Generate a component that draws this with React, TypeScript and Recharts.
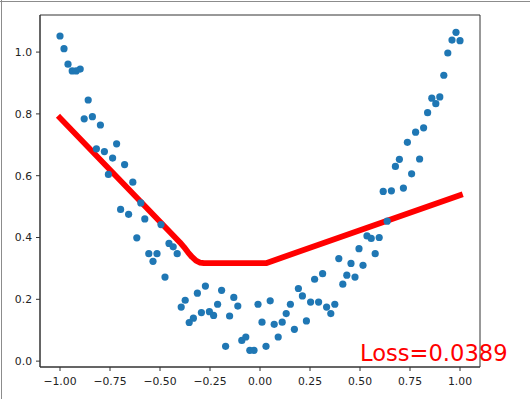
import {
  ComposedChart, Scatter, Line, XAxis, YAxis, ReferenceDot, ReferenceArea,
} from "recharts";

const pointX = [
  -1.000, -0.980, -0.960, -0.939, -0.919, -0.899, -0.879, -0.859, -0.838, -0.818,
  -0.798, -0.778, -0.758, -0.737, -0.717, -0.697, -0.677, -0.657, -0.636, -0.616,
  -0.596, -0.576, -0.556, -0.535, -0.515, -0.495, -0.475, -0.455, -0.434, -0.414,
  -0.394, -0.374, -0.354, -0.333, -0.313, -0.293, -0.273, -0.253, -0.232, -0.212,
  -0.192, -0.172, -0.152, -0.131, -0.111, -0.091, -0.071, -0.051, -0.030, -0.010,
  0.010, 0.030, 0.051, 0.071, 0.091, 0.111, 0.131, 0.152, 0.172, 0.192,
  0.212, 0.232, 0.253, 0.273, 0.293, 0.313, 0.333, 0.354, 0.374, 0.394,
  0.414, 0.434, 0.455, 0.475, 0.495, 0.515, 0.535, 0.556, 0.576, 0.596,
  0.616, 0.636, 0.657, 0.677, 0.697, 0.717, 0.737, 0.758, 0.778, 0.798,
  0.818, 0.838, 0.859, 0.879, 0.899, 0.919, 0.939, 0.960, 0.980, 1.000,
];

const pointY = [
  1.052, 1.011, 0.961, 0.939, 0.939, 0.945, 0.784, 0.845, 0.791, 0.687,
  0.764, 0.678, 0.604, 0.657, 0.703, 0.491, 0.636, 0.475, 0.579, 0.399,
  0.512, 0.460, 0.348, 0.323, 0.348, 0.442, 0.272, 0.381, 0.370, 0.348,
  0.175, 0.197, 0.125, 0.139, 0.220, 0.157, 0.243, 0.160, 0.148, 0.184,
  0.229, 0.048, 0.146, 0.206, 0.178, 0.067, 0.078, 0.035, 0.035, 0.184,
  0.126, 0.048, 0.195, 0.119, 0.078, 0.126, 0.154, 0.184, 0.103, 0.235,
  0.211, 0.130, 0.191, 0.265, 0.191, 0.283, 0.175, 0.154, 0.184, 0.332,
  0.249, 0.278, 0.316, 0.272, 0.364, 0.310, 0.405, 0.397, 0.348, 0.400,
  0.549, 0.453, 0.551, 0.630, 0.653, 0.560, 0.708, 0.606, 0.741, 0.654,
  0.755, 0.804, 0.851, 0.833, 0.855, 0.925, 0.997, 1.039, 1.064, 1.037,
];

// fitted curve (prediction)
const fitX = [-1.0, -0.40, -0.38, -0.36, -0.34, -0.32, -0.30, -0.28, 0.03, 1.0];
const fitY = [0.787, 0.384, 0.369, 0.352, 0.337, 0.325, 0.319, 0.317, 0.317, 0.537];

const xTicks = [-1, -0.75, -0.5, -0.25, 0, 0.25, 0.5, 0.75, 1];
const yTicks = [0, 0.2, 0.4, 0.6, 0.8, 1.0];
const xDomain = [-1.1, 1.1];
const yDomain = [-0.019, 1.12];
const lossText = "Loss=0.0389";

const points = pointX.map((x, i) => ({ x, y: pointY[i] }));
const fit = fitX.map((x, i) => ({ x, y: fitY[i] }));

const FONT = "'DejaVu Sans', sans-serif";
const AXIS = "#333";

const fmtX = (v: number) => (v < 0 ? "\u2212" + Math.abs(v).toFixed(2) : v.toFixed(2));
const fmtY = (v: number) => v.toFixed(1);

export default function App() {
  return (
    <div style={{ position: "absolute", left: 0, top: 0, width: 530, height: 399, background: "#fff" }}>
      <div style={{ position: "absolute", left: 0, top: 1, width: 530, height: 1, background: "#8c8c8c" }} />
      <div style={{ position: "absolute", left: 1, top: 0, width: 1, height: 399, background: "#8c8c8c" }} />
      <ComposedChart width={530} height={399} margin={{ top: 15, right: 50, left: 0, bottom: 0 }}>
        <XAxis
          dataKey="x"
          type="number"
          domain={xDomain}
          ticks={xTicks}
          tickFormatter={fmtX}
          height={32}
          tickSize={4}
          tickMargin={6}
          stroke={AXIS}
          tick={{ fontSize: 10.8, fontFamily: FONT, fill: "#222" }}
          allowDataOverflow
        />
        <YAxis
          dataKey="y"
          type="number"
          domain={yDomain}
          ticks={yTicks}
          tickFormatter={fmtY}
          width={40}
          tickSize={4}
          tickMargin={4}
          stroke={AXIS}
          tick={{ fontSize: 10.8, fontFamily: FONT, fill: "#222" }}
          allowDataOverflow
        />
        {/* axes frame */}
        <ReferenceArea
          x1={xDomain[0]}
          x2={xDomain[1]}
          y1={yDomain[0]}
          y2={yDomain[1]}
          fill="none"
          fillOpacity={0}
          stroke={AXIS}
          strokeWidth={1}
          ifOverflow="visible"
        />
        <Scatter
          data={points}
          dataKey="y"
          isAnimationActive={false}
          shape={(p: any) => <circle cx={p.cx} cy={p.cy} r={3.6} fill="#1f77b4" />}
        />
        <Line
          data={fit}
          dataKey="y"
          type="linear"
          stroke="#ff0000"
          strokeWidth={5.8}
          strokeLinecap="square"
          strokeLinejoin="round"
          dot={false}
          activeDot={false}
          isAnimationActive={false}
        />
        <ReferenceDot
          x={0.5}
          y={0}
          r={0}
          fill="none"
          stroke="none"
          ifOverflow="visible"
          label={{
            content: (lp: any) => (
              <text x={lp.viewBox?.x ?? 0} y={lp.viewBox?.y ?? 0} fill="#ff0000"
                fontSize={22.6} fontFamily={FONT}>
                {lossText}
              </text>
            ),
          }}
        />
      </ComposedChart>
    </div>
  );
}
